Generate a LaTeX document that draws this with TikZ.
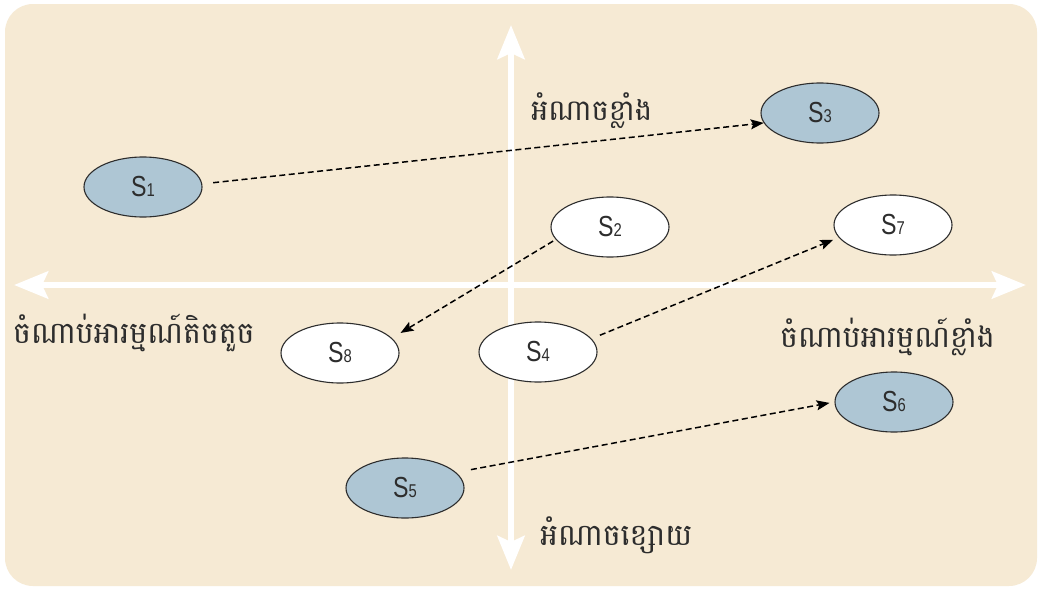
\documentclass[tikz,border=0pt]{standalone}
\usepackage{fontspec}
\newfontfamily\khmerfont[Script=Khmer]{Battambang}
\newfontfamily\labfont[FakeStretch=0.8]{Liberation Sans}
\usetikzlibrary{arrows.meta,shapes.geometric}

\definecolor{paper}{RGB}{246,234,212}
\definecolor{stakeblue}{RGB}{174,198,212}
\definecolor{inkgray}{RGB}{45,45,45}

% stakeholder label: large S with a smaller digit on the baseline
\newcommand\stxt[1]{{\labfont\fontsize{29}{29}\selectfont S\fontsize{18.5}{18.5}\selectfont #1}}

\tikzset{
  stake/.style={ellipse, draw=inkgray, line width=1.1pt, minimum width=118pt,
    minimum height=60pt, inner sep=0pt, text=inkgray},
  strong/.style={stake, fill=stakeblue},
  weak/.style={stake, fill=white},
  axisboth/.style={draw=white, line width=6.5pt,
    {Stealth[length=34pt, width=27pt, inset=6pt]}-{Stealth[length=34pt, width=27pt, inset=6pt]}},
  movearrow/.style={draw=black, line width=1.5pt, dash pattern=on 6pt off 3.5pt,
    -{Stealth[length=13pt, width=10pt, inset=2.5pt]}},
  khlabel/.style={inner sep=0pt, text=inkgray, font=\khmerfont\fontsize{30}{30}\selectfont}
}

\begin{document}
\begin{tikzpicture}[x=1pt, y=-1pt]
  % page and panel
  \fill[white] (0,0) rectangle (1041,589);
  \fill[paper, rounded corners=28pt] (5,4) rectangle (1037,586);

  % axis end points
  \coordinate (axL) at (14,285);
  \coordinate (axR) at (1026,285);
  \coordinate (axT) at (511,25);
  \coordinate (axB) at (511,570);

  % interest and power axes
  \draw[axisboth] (axL) -- (axR);
  \draw[axisboth] (axB) -- (axT);

  % axis captions
  \node[khlabel, anchor=base west, font=\khmerfont\fontsize{29}{29}\selectfont] (pHigh) at (531,120) {អំណាចខ្លាំង};
  \node[khlabel, anchor=base west] (pLow) at (540,545) {អំណាចខ្សោយ};
  \node[khlabel, anchor=base west] (iLow) at (13,343) {ចំណាប់អារម្មណ៍តិចតួច};
  \node[khlabel, anchor=base west] (iHigh) at (780,347) {ចំណាប់អារម្មណ៍ខ្លាំង};

  % stakeholders
  \node[strong] (s1) at (143,187) {\stxt{1}};
  \node[strong] (s3) at (820,113) {\stxt{3}};
  \node[weak]   (s2) at (610,227) {\stxt{2}};
  \node[weak]   (s7) at (893,225) {\stxt{7}};
  \node[weak]   (s8) at (340,353) {\stxt{8}};
  \node[weak]   (s4) at (538,352) {\stxt{4}};
  \node[strong] (s6) at (894,402) {\stxt{6}};
  \node[strong] (s5) at (405,488) {\stxt{5}};

  % expected moves
  \draw[movearrow, shorten <=11pt] (s1.3) -- (s3.190);
  \draw[movearrow, shorten <=3pt, shorten >=10pt] (s2.193) -- (s8.16);
  \draw[movearrow, shorten <=9pt, shorten >=6pt] (s4.14) -- (s7.193);
  \draw[movearrow, shorten <=15pt, shorten >=5pt] (s5.17) -- (s6.west);
\end{tikzpicture}
\end{document}
